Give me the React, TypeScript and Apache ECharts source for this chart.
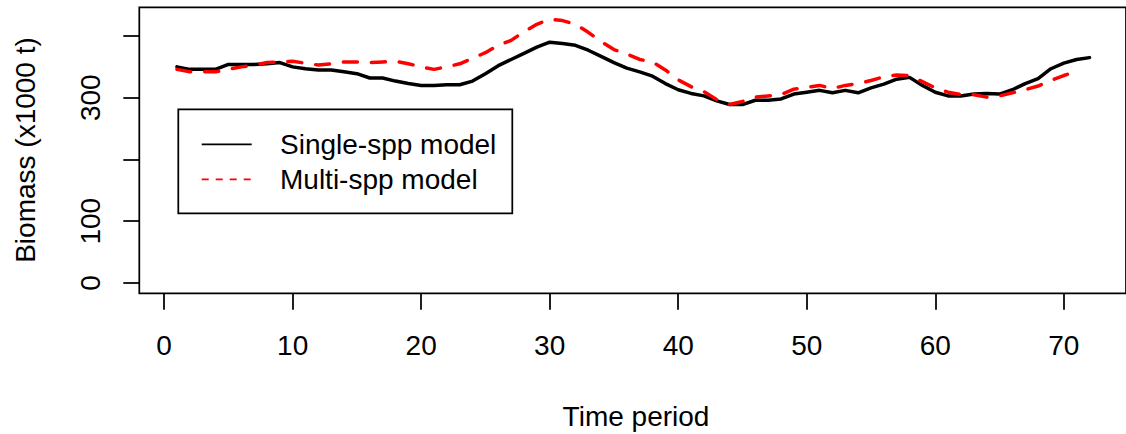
import React, { useEffect, useRef } from "react";
import * as echarts from "echarts";

const singleSpp = [
  350, 346, 346, 346, 354, 354, 354, 355, 357, 350,
  347, 345, 345, 342, 339, 332, 332, 327, 323, 320,
  320, 321, 321, 327, 339, 352, 362, 372, 382, 390,
  388, 385, 377, 367, 357, 348, 342, 335, 323, 313,
  307, 303, 295, 289, 289, 296, 296, 298, 306, 309,
  312, 308, 312, 308, 316, 322, 330, 333, 320, 309,
  303, 303, 306, 307, 306, 313, 323, 331, 347, 356,
  362, 365,
];

const multiSpp = [
  346, 342, 342, 342, 346, 350, 353, 357, 358, 359,
  356, 353, 355, 358, 358, 357, 358, 359, 355, 350,
  346, 350, 355, 364, 373, 385, 393, 407, 419, 427,
  425, 419, 406, 391, 378, 371, 362, 358, 345, 329,
  318, 310, 297, 289, 294, 301, 303, 305, 314, 317,
  320, 315, 320, 323, 328, 334, 337, 336, 326, 316,
  309, 305, 305, 301, 303, 308, 313, 319, 328, 336,
  343,
];

const xTicks = [0, 10, 20, 30, 40, 50, 60, 70];
const yTicks = [0, 100, 200, 300, 400];
const yLabels = [0, 100, 300];

const seriesNames = ["Single-spp model", "Multi-spp model"];
const xTitle = "Time period";
const yTitle = "Biomass (x1000 t)";

const FONT = "'Liberation Sans', Arial, Helvetica, sans-serif";

export default function App() {
  const ref = useRef<HTMLDivElement>(null);

  useEffect(() => {
    if (!ref.current) return;
    const chart = echarts.init(ref.current, undefined, { renderer: "svg" });

    const toPairs = (arr: number[]) => arr.map((v, i) => [i + 1, v]);

    const option: any = {
      animation: false,
      backgroundColor: "#ffffff",
      grid: {
        left: 139.3,
        top: 7.3,
        width: 992,
        height: 286,
        show: true,
        borderColor: "#000",
        borderWidth: 1.75,
        backgroundColor: "transparent",
      },
      xAxis: {
        type: "value",
        min: -1.93,
        max: 74.84,
        splitLine: { show: false },
        axisLine: { show: false, onZero: false },
        axisTick: {
          show: true,
          customValues: xTicks,
          length: 16.5,
          lineStyle: { color: "#000", width: 1.75 },
        },
        axisLabel: {
          customValues: xTicks,
          margin: 38,
          fontSize: 28,
          fontFamily: FONT,
          color: "#000",
        },
      },
      yAxis: {
        type: "value",
        min: -16.7,
        max: 446.5,
        splitLine: { show: false },
        axisLine: { show: false, onZero: false },
        axisTick: {
          show: true,
          customValues: yTicks,
          length: 16,
          lineStyle: { color: "#000", width: 1.75 },
        },
        axisLabel: {
          customValues: yLabels,
          rotate: 90,
          margin: 35,
          fontSize: 28,
          fontFamily: FONT,
          color: "#000",
        },
      },
      series: [
        {
          name: seriesNames[0],
          type: "line",
          data: toPairs(singleSpp),
          symbol: "none",
          lineStyle: { color: "#000", width: 3.5, cap: "round", join: "round" },
          z: 3,
        },
        {
          name: seriesNames[1],
          type: "line",
          data: toPairs(multiSpp),
          symbol: "none",
          lineStyle: {
            color: "#ff0000",
            width: 3.5,
            type: [14, 14],
            cap: "round",
            join: "round",
          },
          z: 4,
        },
      ],
      graphic: [
        {
          type: "text",
          x: 25,
          y: 150,
          rotation: Math.PI / 2,
          style: {
            text: yTitle,
            fontSize: 28,
            fontFamily: FONT,
            fill: "#000",
            align: "center",
            verticalAlign: "middle",
          },
        },
        {
          type: "text",
          x: 636,
          y: 416,
          style: {
            text: xTitle,
            fontSize: 28,
            fontFamily: FONT,
            fill: "#000",
            align: "center",
            verticalAlign: "middle",
          },
        },
        {
          type: "rect",
          shape: { x: 178.3, y: 109.3, width: 334, height: 104 },
          style: { fill: "#fff", stroke: "#000", lineWidth: 1.75 },
          z: 10,
        },
        {
          type: "line",
          shape: { x1: 201.7, y1: 144.3, x2: 251.7, y2: 144.3 },
          style: { stroke: "#000", lineWidth: 1.75 },
          z: 11,
        },
        {
          type: "line",
          shape: { x1: 201.7, y1: 179.3, x2: 251.7, y2: 179.3 },
          style: { stroke: "#ff0000", lineWidth: 1.75, lineDash: [7, 7] },
          z: 11,
        },
        {
          type: "text",
          x: 280,
          y: 144.3,
          style: {
            text: seriesNames[0],
            fontSize: 28,
            fontFamily: FONT,
            fill: "#000",
            align: "left",
            verticalAlign: "middle",
          },
          z: 11,
        },
        {
          type: "text",
          x: 280,
          y: 179.3,
          style: {
            text: seriesNames[1],
            fontSize: 28,
            fontFamily: FONT,
            fill: "#000",
            align: "left",
            verticalAlign: "middle",
          },
          z: 11,
        },
      ],
    };

    chart.setOption(option);
    return () => chart.dispose();
  }, []);

  return (
    <div
      ref={ref}
      style={{ position: "absolute", left: 0, top: 0, width: 1126, height: 434 }}
    />
  );
}
